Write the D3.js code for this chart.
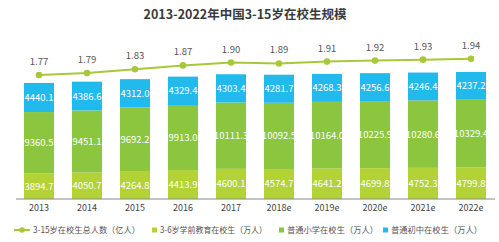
<!DOCTYPE html>
<html><head><meta charset="utf-8">
<script src="https://cdn.jsdelivr.net/npm/d3@7"></script>
<style>
body{margin:0;background:#fff;}
text{font-family:"Noto Sans CJK SC","Noto Sans",sans-serif;}
</style></head>
<body><svg id="c" width="499" height="242"></svg>
<script>
const years = ["2013","2014","2015","2016","2017","2018e","2019e","2020e","2021e","2022e"];
const preschool = [3894.7,4050.7,4264.8,4413.9,4600.1,4574.7,4641.2,4699.8,4752.3,4799.8];
const primary = [9360.5,9451.1,9692.2,9913.0,10111.3,10092.5,10164.0,10225.9,10280.6,10329.4];
const junior = [4440.1,4386.6,4312.0,4329.4,4303.4,4281.7,4268.3,4256.6,4246.4,4237.2];
const total = [1.77,1.79,1.83,1.87,1.90,1.89,1.91,1.92,1.93,1.94];
const seriesNames = ["3-15岁在校生总人数（亿人）","3-6岁学前教育在校生（万人）","普通小学在校生（万人）","普通初中在校生（万人）"];
const colors = ["#b3d235","#8cc63f","#22b9ec"];
const lineColor = "#a8c83a";

const svg = d3.select("#c");
const x = d3.scaleBand().domain(years).range([15, 495]).paddingInner(0.375).paddingOuter(0.1875);
const y = d3.scaleLinear().domain([0, 30000]).range([199, 199 - 30000*0.00656]);
const y2 = d3.scaleLinear().domain([1.77, 1.94]).range([75, 58.7]);

svg.append("text").attr("x", 245).attr("y", 19).attr("text-anchor","middle")
  .attr("font-size", 12.5).attr("font-weight","bold").attr("fill","#3a3a3a")
  .text("2013-2022年中国3-15岁在校生规模");

const stackData = years.map((yr,i)=>({year:yr, a:preschool[i], b:primary[i], c:junior[i]}));
const stack = d3.stack().keys(["a","b","c"])(stackData);
stack.forEach((s,k)=>{
  const g = svg.append("g");
  g.selectAll("rect").data(s).join("rect")
    .attr("x", d=>x(d.data.year)).attr("width", x.bandwidth())
    .attr("y", d=>y(d[1])).attr("height", d=>y(d[0])-y(d[1]))
    .attr("fill", colors[k]);
  g.selectAll("text").data(s).join("text")
    .attr("x", d=>x(d.data.year)+x.bandwidth()/2)
    .attr("y", d=>(y(d[0])+y(d[1]))/2 + 3.5)
    .attr("text-anchor","middle").attr("font-size", 9.5).attr("fill","#fff")
    .text(d=>(d[1]-d[0]).toFixed(1));
});

const xAxis = svg.append("g").attr("transform","translate(0,199)")
  .call(d3.axisBottom(x).tickSize(0).tickPadding(6));
xAxis.select(".domain").attr("stroke","#888").attr("d","M16,0H495");
xAxis.selectAll("text").attr("font-size", 9).attr("fill","#444")
  .attr("font-family","\"Noto Sans CJK SC\",sans-serif");

const line = d3.line().x((d,i)=>x(years[i])+x.bandwidth()/2).y(d=>y2(d));
svg.append("path").datum(total).attr("d", line).attr("fill","none")
  .attr("stroke", lineColor).attr("stroke-width", 2);
svg.selectAll(".pt").data(total).join("circle").attr("class","pt")
  .attr("cx",(d,i)=>x(years[i])+x.bandwidth()/2).attr("cy", d=>y2(d)).attr("r", 3.3)
  .attr("fill", lineColor);
svg.selectAll(".pl").data(total).join("text").attr("class","pl")
  .attr("x",(d,i)=>x(years[i])+x.bandwidth()/2).attr("y", d=>y2(d)-10)
  .attr("text-anchor","middle").attr("font-size", 9.5).attr("fill","#555")
  .text(d=>d.toFixed(2));

// legend
const ly = 230;
const lg = svg.append("g");
lg.append("line").attr("x1",14).attr("x2",30).attr("y1",ly).attr("y2",ly).attr("stroke",lineColor).attr("stroke-width",2);
lg.append("circle").attr("cx",22).attr("cy",ly).attr("r",2.8).attr("fill",lineColor);
const legX = [33, 160, 287, 391];
const legW = [107, 107, 91, 91];
const sqX = [null, 152, 279, 383];
seriesNames.forEach((n,i)=>{
  if(i>0) lg.append("rect").attr("x",sqX[i]).attr("y",ly-2.5).attr("width",5).attr("height",5).attr("fill",colors[i-1]);
  lg.append("text").attr("x",legX[i]).attr("y",ly+3).attr("font-size",8.5).attr("fill","#555")
    .attr("textLength", legW[i]).attr("lengthAdjust","spacingAndGlyphs").text(n);
});
</script></body></html>
